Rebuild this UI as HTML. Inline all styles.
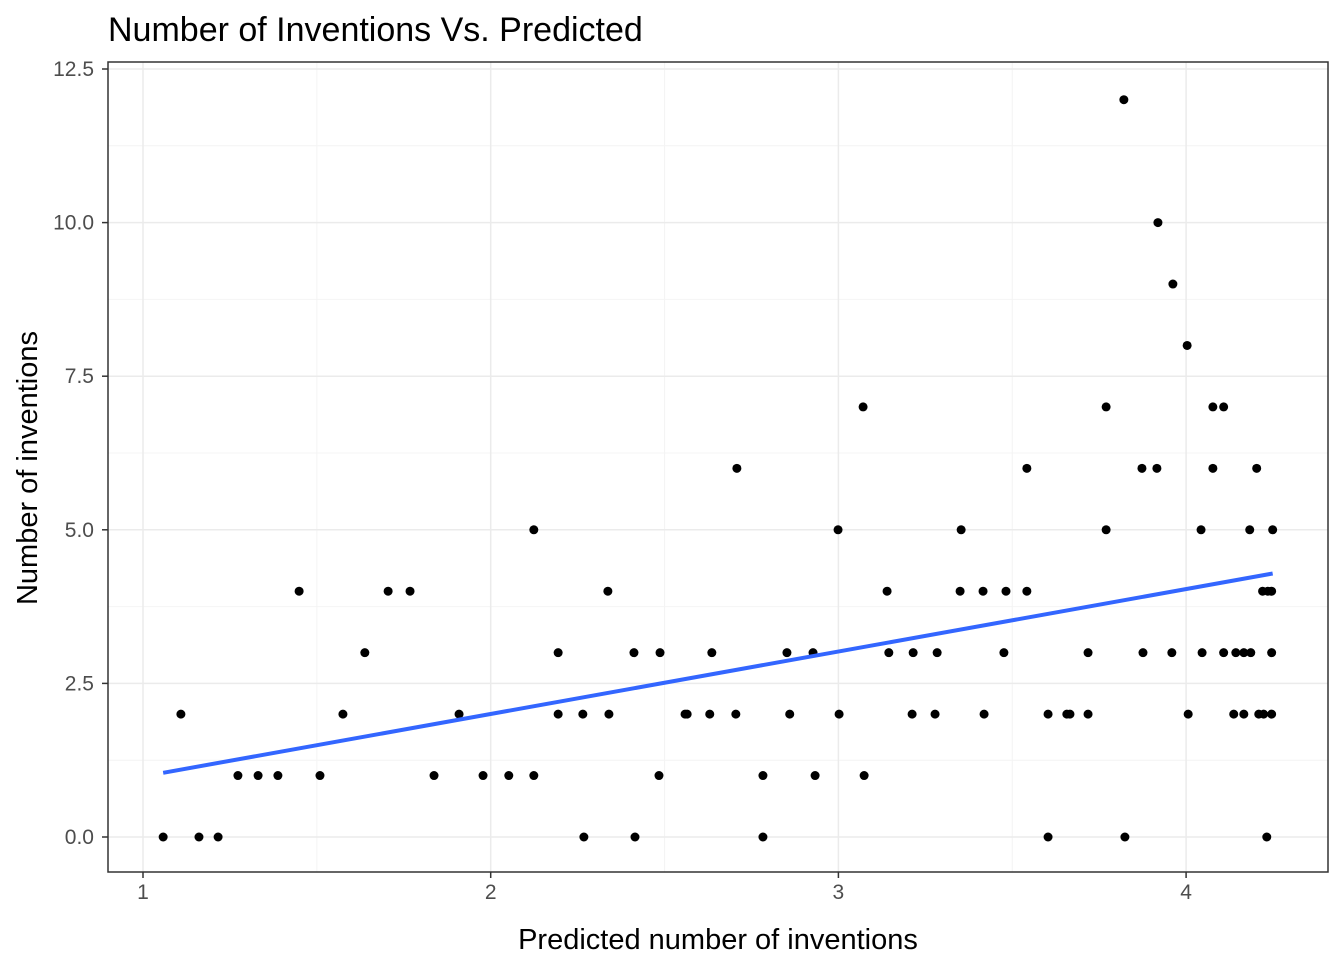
<!DOCTYPE html>
<html><head><meta charset="utf-8"><style>
body{margin:0;background:#fff;}
svg{font-family:"Liberation Sans",Arial,sans-serif;}
</style></head><body>
<svg id="chart" width="1344" height="960" viewBox="0 0 1344 960"></svg>
<script>
const xs=[1.058,1.109,1.161,1.216,1.273,1.331,1.388,1.449,1.509,1.575,1.638,1.705,1.768,1.837,1.909,1.978,2.052,2.124,2.124,2.194,2.194,2.265,2.268,2.337,2.340,2.412,2.415,2.487,2.484,2.559,2.565,2.636,2.630,2.708,2.705,2.783,2.783,2.852,2.860,2.927,2.933,2.999,3.002,3.071,3.074,3.140,3.145,3.215,3.212,3.284,3.278,3.353,3.350,3.416,3.419,3.482,3.476,3.542,3.542,3.603,3.603,3.657,3.666,3.718,3.718,3.770,3.770,3.821,3.824,3.873,3.876,3.919,3.916,3.962,3.959,4.003,4.006,4.043,4.046,4.077,4.077,4.108,4.108,4.137,4.143,4.166,4.166,4.186,4.183,4.203,4.209,4.220,4.223,4.232,4.235,4.246,4.246,4.249,4.246];
const ys=[0,2,0,0,1,1,1,4,1,2,3,4,4,1,2,1,1,5,1,3,2,2,0,4,2,3,0,3,1,2,2,3,2,6,2,1,0,3,2,3,1,5,2,7,1,4,3,3,2,3,2,5,4,4,2,4,3,6,4,2,0,2,2,3,2,7,5,12,0,6,3,10,6,9,3,8,2,5,3,7,6,7,3,2,3,2,3,3,5,6,2,4,2,0,4,2,3,5,4];
const xTicks=[1,2,3,4];
const yTicks=[0,2.5,5,7.5,10,12.5];
const yTickLabels=["0.0","2.5","5.0","7.5","10.0","12.5"];
const xMinor=[1.5,2.5,3.5];
const yMinor=[1.25,3.75,6.25,8.75,11.25];

const L=108,R=1328,T=62,B=872;
const sx=v=>143+(v-1)*347.7;
const sy=v=>837-v*61.44;
const svg=document.getElementById('chart');
const NS='http://www.w3.org/2000/svg';
function mk(tag,attrs,parent){const e=document.createElementNS(NS,tag);for(const k in attrs)e.setAttribute(k,attrs[k]);(parent||svg).appendChild(e);return e;}

let e=mk('text',{x:108,y:41,'font-size':'34','fill':'#000'});


e.textContent='Number of Inventions Vs. Predicted';

const g=mk('g',{});


xMinor.forEach(v=>mk('line',{x1:sx(v),x2:sx(v),y1:T,y2:B,stroke:'#f4f4f4','stroke-width':1},g));
yMinor.forEach(v=>mk('line',{x1:L,x2:R,y1:sy(v),y2:sy(v),stroke:'#f4f4f4','stroke-width':1},g));
xTicks.forEach(v=>mk('line',{x1:sx(v),x2:sx(v),y1:T,y2:B,stroke:'#ebebeb','stroke-width':1.5},g));
yTicks.forEach(v=>mk('line',{x1:L,x2:R,y1:sy(v),y2:sy(v),stroke:'#ebebeb','stroke-width':1.5},g));

const pts=mk('g',{});


xs.forEach((x,i)=>{
  const c=mk('circle',{cx:sx(x),cy:sy(ys[i]),r:4.5,fill:'#000'},pts);
  
  
});

const n=xs.length;const mx=xs.reduce((a,b)=>a+b)/n,my=ys.reduce((a,b)=>a+b)/n;
let sxy=0,sxx=0;xs.forEach((x,i)=>{sxy+=(x-mx)*(ys[i]-my);sxx+=(x-mx)*(x-mx);});
const b1=sxy/sxx,b0=my-b1*mx;
const x0=Math.min(...xs),x1=Math.max(...xs);
e=mk('line',{x1:sx(x0),y1:sy(b0+b1*x0),x2:sx(x1),y2:sy(b0+b1*x1),stroke:'#3366ff','stroke-width':4});



e=mk('rect',{x:L,y:T,width:R-L,height:B-T,fill:'none',stroke:'#333','stroke-width':1.5});



xTicks.forEach(v=>{
  mk('line',{x1:sx(v),x2:sx(v),y1:B,y2:B+6,stroke:'#333','stroke-width':1.5});
  const t=mk('text',{x:sx(v),y:B+27,'font-size':'21','fill':'#4d4d4d','text-anchor':'middle'});
  
  
  t.textContent=v;
});
yTicks.forEach((v,i)=>{
  mk('line',{x1:L-6,x2:L,y1:sy(v),y2:sy(v),stroke:'#333','stroke-width':1.5});
  const t=mk('text',{x:L-14,y:sy(v)+7,'font-size':'21','fill':'#4d4d4d','text-anchor':'end'});
  
  
  t.textContent=yTickLabels[i];
});
e=mk('text',{x:718,y:949,'font-size':'29','fill':'#000','text-anchor':'middle'});


e.textContent='Predicted number of inventions';
e=mk('text',{x:0,y:0,'font-size':'29','fill':'#000','text-anchor':'middle',transform:'translate(37,468) rotate(-90)'});


e.textContent='Number of inventions';
</script>
</body></html>
